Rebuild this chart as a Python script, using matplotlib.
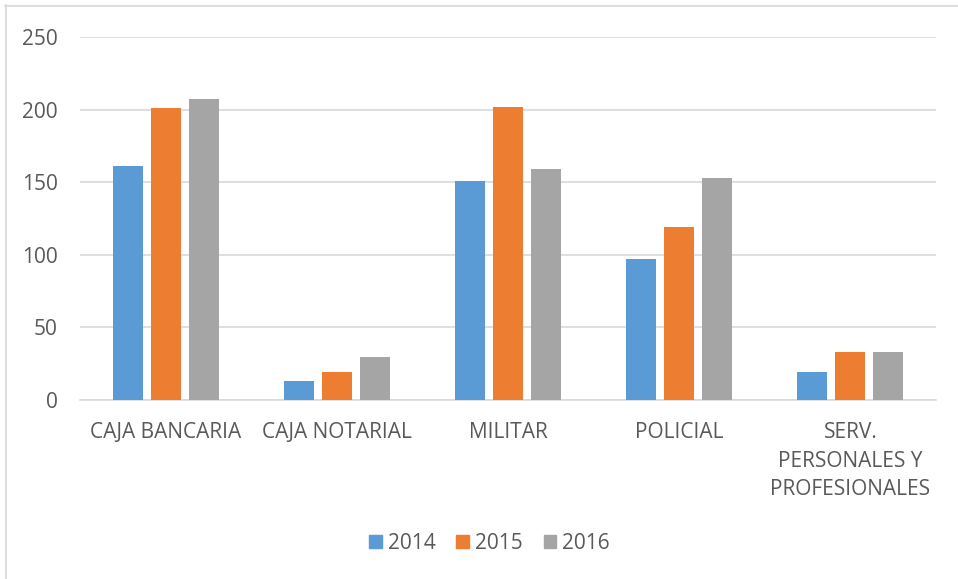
import numpy as np
import matplotlib
matplotlib.use("Agg")
import matplotlib.pyplot as plt
from matplotlib.lines import Line2D

# values
categories = ["CAJA BANCARIA", "CAJA NOTARIAL", "MILITAR", "POLICIAL",
              "SERV.\nPERSONALES Y\nPROFESIONALES"]
years = ["2014", "2015", "2016"]
v2014 = [161, 13, 151, 97, 19]
v2015 = [201, 19, 202, 119, 33]
v2016 = [207, 30, 159, 153, 33]
colors = ["#5b9bd5", "#ed7d31", "#a5a5a5"]

plt.rcParams['font.family'] = ['Open Sans', 'DejaVu Sans']
txt = "#595959"
grid_c = "#d9d9d9"
fs = 15

fig = plt.figure(figsize=(9.58, 5.79), dpi=100)
ax = fig.add_axes([0.0835, 0.309, 0.8935, 0.627])

x = np.arange(len(categories))
width = 0.175
step = 0.222
for i, (vals, c) in enumerate(zip([v2014, v2015, v2016], colors)):
    ax.bar(x + (i - 1) * step, vals, width, color=c, label=years[i], zorder=3)

ax.set_xlim(-0.5, len(categories) - 0.5)
ax.set_ylim(0, 250)
ax.set_yticks(range(0, 251, 50))
ax.yaxis.grid(True, color=grid_c, linewidth=1.2, zorder=0)
for s in ["top", "right", "left"]:
    ax.spines[s].set_visible(False)
ax.spines["bottom"].set_color(grid_c)
ax.spines["bottom"].set_linewidth(1.2)
ax.tick_params(axis="y", length=0, pad=16, labelsize=fs, labelcolor=txt)
ax.tick_params(axis="x", length=0, pad=16, labelsize=fs, labelcolor=txt)
ax.set_xticks(x)
ax.set_xticklabels(categories, linespacing=1.45)

handles = [plt.Rectangle((0, 0), 1, 1, color=c) for c in colors]
fig.legend(handles, years, loc="center", bbox_to_anchor=(0.511, 0.062), ncol=3,
           frameon=False, fontsize=fs, labelcolor=txt, handlelength=0.6,
           handleheight=0.6, handletextpad=0.3, columnspacing=1.0)

# chart area border (top and left edges visible)
fig.add_artist(Line2D([5 / 958, 1], [1 - 5.5 / 579, 1 - 5.5 / 579],
                      color=grid_c, linewidth=1.2, transform=fig.transFigure))
fig.add_artist(Line2D([5.5 / 958, 5.5 / 958], [0, 1 - 5 / 579],
                      color=grid_c, linewidth=1.2, transform=fig.transFigure))

fig.savefig("out.png", dpi=100)
